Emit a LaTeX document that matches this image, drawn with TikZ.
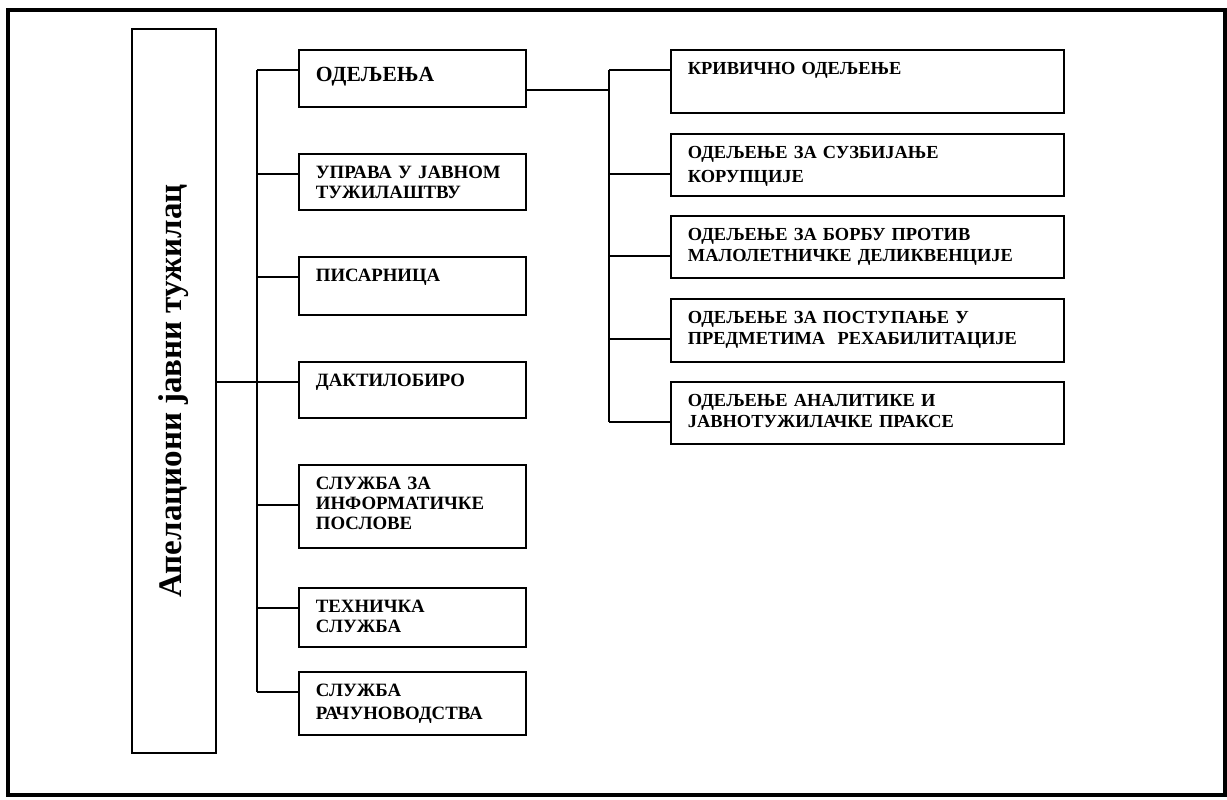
\documentclass[tikz,border=0pt]{standalone}
\usepackage{fontspec}
\setmainfont{Liberation Serif}
\usetikzlibrary{positioning,calc}

\begin{document}
\begin{tikzpicture}[x=0.5pt,y=-0.5pt]
  \useasboundingbox (0,0) rectangle (1227,799);
  \draw[line width=1.8pt] (8,10) rectangle (1225,795);
  \node[draw,line width=0.9pt,minimum width=42pt,minimum height=362pt,inner sep=0pt] (tuz) at (174,391)
    {\rotatebox{90}{\fontsize{16.5}{18}\selectfont\bfseries Апелациони јавни тужилац}};
  \begin{scope}[every node/.style={draw,line width=0.9pt,anchor=north west,inner xsep=8.5pt,inner ysep=0pt,
      align=left,text width=96.5pt,text height=12.5pt,font=\fontsize{9.4}{10}\selectfont\bfseries}]
    \node[text height=16pt,text depth=12.5pt,font=\fontsize{10.8}{12}\selectfont\bfseries] (odj) at (298,49) {ОДЕЉЕЊА};
    \node[text depth=15.5pt] (upr) at (298,153) {УПРАВА У ЈАВНОМ\\ТУЖИЛАШТВУ};
    \node[text depth=16.5pt] (pis) at (298,256) {ПИСАРНИЦА};
    \node[text depth=15.5pt] (dak) at (298,361) {ДАКТИЛОБИРО};
    \node[text depth=29pt] (inf) at (298,464) {СЛУЖБА ЗА\\ИНФОРМАТИЧКЕ\\ПОСЛОВЕ};
    \node[text depth=17pt] (teh) at (298,587) {ТЕХНИЧКА\\СЛУЖБА};
    \node[text depth=19pt] (rac) at (298,671) {СЛУЖБА\\[1.5pt]РАЧУНОВОДСТВА};
  \end{scope}
  \begin{scope}[every node/.style={draw,line width=0.9pt,anchor=north west,inner xsep=8.5pt,inner ysep=0pt,
      align=left,text width=179.5pt,text height=12.5pt,font=\fontsize{9.2}{10.5}\selectfont\bfseries}]
    \node[text depth=19pt] (kriv) at (670,49) {КРИВИЧНО ОДЕЉЕЊЕ};
    \node[text depth=18.5pt] (kor) at (670,133) {ОДЕЉЕЊЕ ЗА СУЗБИЈАЊЕ\\[1.5pt]КОРУПЦИЈЕ};
    \node[text depth=18.5pt] (mal) at (670,215) {ОДЕЉЕЊЕ ЗА БОРБУ ПРОТИВ\\МАЛОЛЕТНИЧКЕ ДЕЛИКВЕНЦИЈЕ};
    \node[text depth=19pt] (reh) at (670,298) {ОДЕЉЕЊЕ ЗА ПОСТУПАЊЕ У\\ПРЕДМЕТИМА\ \ РЕХАБИЛИТАЦИЈЕ};
    \node[text depth=18.5pt] (anl) at (670,381) {ОДЕЉЕЊЕ АНАЛИТИКЕ И\\ЈАВНОТУЖИЛАЧКЕ ПРАКСЕ};
  \end{scope}
  % where the lines meet the boxes
  \coordinate (lt) at (257,0);
  \coordinate (rt) at (609,0);
  \foreach \n in {odj,upr,pis,dak,teh,rac,kriv}
    \coordinate (\n-in) at ($(\n.north west)+(0,21)$);
  \foreach \n in {inf,kor,mal,reh,anl}
    \coordinate (\n-in) at ($(\n.north west)+(0,41)$);
  \coordinate (odj-out) at ($(odj.north east)+(0,41)$);
  \begin{scope}[every edge/.style={draw=black,line width=0.9pt}]
    \path (dak-in -| tuz.east) edge (dak-in -| lt);
    \path (odj-in -| lt) edge (rac-in -| lt);
    \foreach \n in {odj,upr,pis,dak,inf,teh,rac}
      \path (\n-in -| lt) edge (\n-in);
    \path (odj-out) edge (odj-out -| rt);
    \path (kriv-in -| rt) edge (anl-in -| rt);
    \foreach \n in {kriv,kor,mal,reh,anl}
      \path (\n-in -| rt) edge (\n-in);
  \end{scope}
\end{tikzpicture}
\end{document}
